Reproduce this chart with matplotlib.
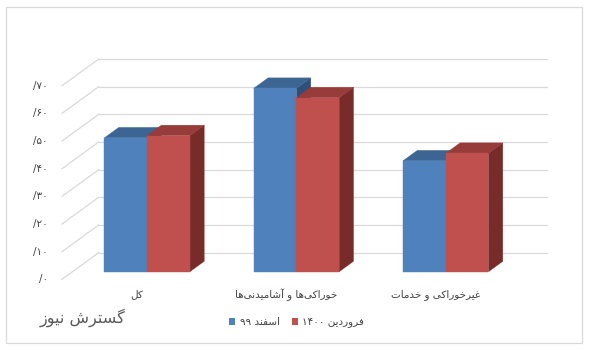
import re
import matplotlib
matplotlib.use('Agg')
import matplotlib.pyplot as plt
from matplotlib.patches import Polygon, Rectangle, Patch

# ---------------- data ----------------
categories = ["کل", "خوراکی‌ها و آشامیدنی‌ها", "غیرخوراکی و خدمات"]
series_names = ["اسفند ۹۹", "فروردین ۱۴۰۰"]
esfand_99 = [48.4, 66.3, 40.1]
farvardin_1400 = [49.2, 62.9, 42.8]
y_ticks = [0, 10, 20, 30, 40, 50, 60, 70]
y_tick_labels = ["/۰", "/۱۰", "/۲۰", "/۳۰", "/۴۰", "/۵۰", "/۶۰", "/۷۰"]
watermark = "گسترش نیوز"

# ---------------- simple Persian shaping (presentation forms + RTL order) ----------------
FORMS = {
    '\u0627': ('\uFE8D', '\uFE8E', None, None),
    '\u0622': ('\uFE81', '\uFE82', None, None),
    '\u062A': ('\uFE95', '\uFE96', '\uFE97', '\uFE98'),
    '\u062E': ('\uFEA5', '\uFEA6', '\uFEA7', '\uFEA8'),
    '\u062F': ('\uFEA9', '\uFEAA', None, None),
    '\u0631': ('\uFEAD', '\uFEAE', None, None),
    '\u0632': ('\uFEAF', '\uFEB0', None, None),
    '\u0633': ('\uFEB1', '\uFEB2', '\uFEB3', '\uFEB4'),
    '\u0634': ('\uFEB5', '\uFEB6', '\uFEB7', '\uFEB8'),
    '\u063A': ('\uFECD', '\uFECE', '\uFECF', '\uFED0'),
    '\u0641': ('\uFED1', '\uFED2', '\uFED3', '\uFED4'),
    '\u0644': ('\uFEDD', '\uFEDE', '\uFEDF', '\uFEE0'),
    '\u0645': ('\uFEE1', '\uFEE2', '\uFEE3', '\uFEE4'),
    '\u0646': ('\uFEE5', '\uFEE6', '\uFEE7', '\uFEE8'),
    '\u0647': ('\uFEE9', '\uFEEA', '\uFEEB', '\uFEEC'),
    '\u0648': ('\uFEED', '\uFEEE', None, None),
    '\u06CC': ('\uFBFC', '\uFBFD', '\uFBFE', '\uFBFF'),
    '\u06A9': ('\uFB8E', '\uFB8F', '\uFB90', '\uFB91'),
    '\u06AF': ('\uFB92', '\uFB93', '\uFB94', '\uFB95'),
}


def shape(s):
    out = []
    n = len(s)
    for i, c in enumerate(s):
        if c not in FORMS:
            if c != '\u200c':
                out.append(c)
            continue
        f = FORMS[c]
        prev = s[i - 1] if i > 0 else None
        nxt = s[i + 1] if i + 1 < n else None
        jp = prev in FORMS and FORMS[prev][2] is not None
        jn = f[2] is not None and nxt in FORMS
        if jp and jn:
            g = f[3]
        elif jp:
            g = f[1]
        elif jn:
            g = f[2]
        else:
            g = f[0]
        out.append(g)
    rev = ''.join(out)[::-1]
    return re.sub(r'[0-9\u06F0-\u06F9]+', lambda m: m.group(0)[::-1], rev)


# ---------------- geometry / style ----------------
plt.rcParams['font.family'] = ['DejaVu Sans']
W, H = 594, 351
fig = plt.figure(figsize=(W / 100, H / 100), dpi=100)
ax = fig.add_axes([0, 0, 1, 1])
ax.set_xlim(-0.9156, 3.063)
ax.set_ylim(-25.92, 100.98)
ax.axis('off')

DX, DY = 0.2458, 9.65          # depth vector of the 3-D box
D0, DD = 0.285, 0.39            # bar depth start and depth length
BW = 0.286                       # bar width
XL, XR = -0.5, 2.5               # floor extent
grid_c = '#d9d9d9'
text_c = '#404040'

series = [esfand_99, farvardin_1400]
colors = [('#4F81BD', '#3C6593', '#2F4F78'),
          ('#C0504D', '#973C3A', '#772C2A')]

# gridlines: left side wall diagonals + back wall horizontals
for v in y_ticks:
    ax.plot([XL, XL + DX], [v, v + DY], color=grid_c, lw=0.9, zorder=1)
    ax.plot([XL + DX, XR + DX], [v + DY, v + DY], color=grid_c, lw=0.9, zorder=1)

for v, lab in zip(y_ticks, y_tick_labels):
    ax.text(-0.594, v, lab, ha='right', va='center', fontsize=7.5, color=text_c)

# bars
d1 = D0 + DD
for i in range(len(categories)):
    for s, (vals, (cf, ct, cs)) in enumerate(zip(series, colors)):
        h = vals[i]
        x0 = i - BW + s * BW
        x1 = x0 + BW
        front = [(x0 + D0 * DX, D0 * DY), (x1 + D0 * DX, D0 * DY),
                 (x1 + D0 * DX, h + D0 * DY), (x0 + D0 * DX, h + D0 * DY)]
        top = [(x0 + D0 * DX, h + D0 * DY), (x1 + D0 * DX, h + D0 * DY),
               (x1 + d1 * DX, h + d1 * DY), (x0 + d1 * DX, h + d1 * DY)]
        side = [(x1 + D0 * DX, D0 * DY), (x1 + d1 * DX, d1 * DY),
                (x1 + d1 * DX, h + d1 * DY), (x1 + D0 * DX, h + D0 * DY)]
        z = 3 + i * 2 + s * 0.5
        ax.add_patch(Polygon(side, closed=True, facecolor=cs, edgecolor=cs, lw=0.3, zorder=z))
        ax.add_patch(Polygon(top, closed=True, facecolor=ct, edgecolor=ct, lw=0.3, zorder=z))
        ax.add_patch(Polygon(front, closed=True, facecolor=cf, edgecolor=cf, lw=0.3, zorder=z + 0.1))

# category labels
for i, c in enumerate(categories):
    ax.text(i, -5.4, shape(c), ha='center', va='center', fontsize=7.5, color=text_c)

# legend
handles = [Patch(facecolor=colors[k][0], edgecolor='none') for k in range(2)]
fig.legend(handles, [shape(n) for n in series_names], loc='center',
           bbox_to_anchor=(0.4995, 0.0806), ncol=2, frameon=False, fontsize=7.5,
           handlelength=0.6, handleheight=0.6, handletextpad=0.4, columnspacing=1.2,
           labelcolor=text_c)

# watermark
fig.text(83 / W, 1 - 317.5 / H, shape(watermark), ha='center', va='center',
         fontsize=11.5, color='#595959')

# chart border
fig.patches.append(Rectangle((6 / W, 1 - 343 / H), 576 / W, 335.7 / H,
                             transform=fig.transFigure, fill=False,
                             edgecolor=grid_c, lw=0.9))

fig.savefig('out.png', dpi=100)
